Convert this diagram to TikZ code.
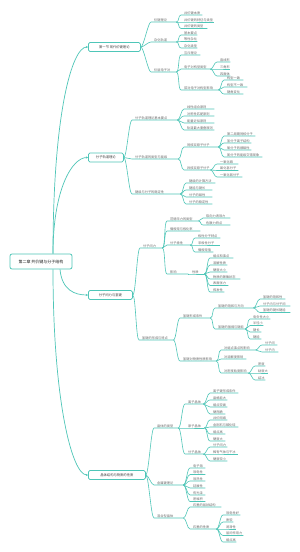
\documentclass[tikz,border=0pt]{standalone}
\usepackage{fontspec}
\newfontfamily\cjk{Noto Sans CJK SC}
\usetikzlibrary{arrows.meta}
\definecolor{lc}{HTML}{4FC6B8}
\definecolor{leafc}{HTML}{6A6A6A}
\definecolor{boxc}{HTML}{404040}
\definecolor{rootc}{HTML}{202020}
\tikzset{
  lbl/.style={anchor=south west, inner xsep=0pt, inner ysep=0.4pt, text=leafc,
    font=\cjk\fontsize{3.2}{3.6}\selectfont, text width=#1, align=left},
  conn/.style={draw=lc, line width=0.6pt},
  bx/.style={draw=lc, fill=white, rounded corners=1.5pt, line width=0.75pt,
    minimum height=9pt, inner sep=0pt, anchor=west, text=boxc,
    font=\cjk\fontsize{3.3}{4}\selectfont},
  rootbx/.style={draw=lc, fill=white, rounded corners=2pt, line width=0.8pt,
    minimum width=62pt, minimum height=15pt, inner sep=0pt, text=rootc,
    font=\cjk\fontsize{4}{5}\selectfont},
  mainconn/.style={draw=lc, line width=0.7pt, -{Stealth[length=2pt,width=2pt]}}
}
\newcommand{\mmn}[6]{%
  \node[lbl=#5pt] (#2) at (#3,#4) {#6};
  \draw[conn] (#1) .. controls +(3,0) and +(-3,0) .. ([xshift=-3pt]#2.south west) -- (#2.south east);
}
\begin{document}
\begin{tikzpicture}[x=1pt,y=-1pt]
\fill[white] (0,0) rectangle (300,552);
\useasboundingbox (0,0) rectangle (300,552);

% root and main branches
\node[rootbx] (root) at (41,261.5) {第二章 共价键与分子结构};
\node[bx, minimum width=52pt] (b1) at (88,47) {第一节 现代价键理论};
\node[bx, minimum width=35pt] (b2) at (88,157.5) {分子轨道理论};
\node[bx, minimum width=44pt] (b3) at (88,295) {分子间力与氢键};
\node[bx, minimum width=57pt] (b4) at (88,475) {晶体结构与物质的性质};

\draw[mainconn] ([xshift=12pt]root.north) .. controls +(0,-140) and +(-16,0) .. (b1.west);
\draw[mainconn] ([xshift=12pt]root.north) .. controls +(0,-64) and +(-16,0) .. (b2.west);
\draw[mainconn] ([xshift=19pt]root.south) .. controls +(2,21) and +(-13,0) .. (b3.west);
\draw[mainconn] ([xshift=12pt]root.south) .. controls +(0,131) and +(-16,0) .. (b4.west);

% ---------- branch 1
\mmn{b1.east}{a1}{154}{22}{22}{价键理论}
\mmn{b1.east}{a2}{154}{42}{22}{杂化轨道}
\mmn{b1.east}{a3}{154}{72}{22}{价层电子对}

\mmn{a1.south east}{a11}{184}{15}{18}{共价键本质}
\mmn{a1.south east}{a12}{184}{22}{30}{共价键的特征与类型}
\mmn{a1.south east}{a13}{184}{28.5}{23}{共价键的类型}

\mmn{a2.south east}{a21}{184}{35}{13}{基本要点}
\mmn{a2.south east}{a22}{184}{41.5}{13}{等性杂化}
\mmn{a2.south east}{a23}{184}{48}{13}{杂化类型}

\mmn{a3.south east}{a31}{184}{55}{16}{互斥理论}
\mmn{a3.south east}{a32}{184}{69}{26}{电子对构型类型}
\mmn{a3.south east}{a33}{184}{90}{34}{孤对电子对构型影响}

\mmn{a32.south east}{a321}{220}{62}{10}{直线形}
\mmn{a32.south east}{a322}{220}{69}{10}{三角形}
\mmn{a32.south east}{a323}{220}{76}{10}{四面体}

\mmn{a33.south east}{a331}{227}{80}{16}{构型一致}
\mmn{a33.south east}{a332}{227}{87}{20}{构型不一致}
\mmn{a33.south east}{a333}{227}{94}{16}{键角变化}

% ---------- branch 2
\mmn{b2.east}{bb1}{135}{120}{42}{分子轨道理论基本要点}
\mmn{b2.east}{bb2}{135}{159}{43}{分子轨道的类型与能级}
\mmn{b2.east}{bb3}{135}{194}{45}{键级与分子的稳定性}

\mmn{bb1.south east}{b11}{187}{109}{27}{线性组合原则}
\mmn{bb1.south east}{b12}{187}{116}{27}{对称性匹配原则}
\mmn{bb1.south east}{b13}{187}{123}{27}{能量近似原则}
\mmn{bb1.south east}{b14}{187}{130}{27}{轨道最大重叠原则}

\mmn{bb2.south east}{c1}{187}{147}{31}{同核双原子分子}
\mmn{bb2.south east}{c2}{187}{170}{23}{异核双原子分子}

\mmn{c1.south east}{c11}{227}{136}{28}{第二周期同核分子}
\mmn{c1.south east}{c12}{227}{143}{24}{氢分子离子结构}
\mmn{c1.south east}{c13}{227}{150}{24}{氧分子的顺磁性}
\mmn{c1.south east}{c14}{227}{157}{35}{氮分子的能级交错现象}

\mmn{c2.south east}{c21}{220}{164}{18}{一氧化碳}
\mmn{c2.south east}{c22}{220}{170.5}{18}{氟化氢分子}
\mmn{c2.south east}{c23}{220}{177}{22}{一氧化氮分子}

\mmn{bb3.south east}{d1}{189}{183}{26}{键级的计算方法}
\mmn{bb3.south east}{d2}{189}{190}{23}{键能与键长}
\mmn{bb3.south east}{d3}{189}{197}{23}{分子的磁性}
\mmn{bb3.south east}{d4}{189}{204}{23}{分子的稳定性}

% ---------- branch 3
\mmn{b3.east}{dd1}{143}{248}{19}{分子间力}
\mmn{b3.east}{dd2}{142}{340}{31}{氢键的形成与特点}

\mmn{dd1.south east}{e1}{170}{221}{28}{范德华力的类型}
\mmn{dd1.south east}{e2}{170}{231}{30}{偶极矩与极化率}
\mmn{dd1.south east}{e3}{170}{245}{20}{分子极性}
\mmn{dd1.south east}{e4}{170}{274}{18}{影响}

\mmn{e1.south east}{e11}{206}{218}{24}{取向力诱导力}
\mmn{e1.south east}{e12}{206}{225}{24}{色散力特点}

\mmn{e3.south east}{e31}{198}{238}{22}{极性分子特点}
\mmn{e3.south east}{e32}{198}{245}{22}{非极性分子}
\mmn{e3.south east}{e33}{198}{252}{15}{偶极矩值}

\mmn{e4.south east}{f}{192}{274}{12}{性质}

\mmn{f.south east}{f1}{213}{258}{20}{熔点和沸点}
\mmn{f.south east}{f2}{213}{265}{14}{溶解性质}
\mmn{f.south east}{f3}{213}{272}{14}{硬度大小}
\mmn{f.south east}{f4}{213}{279}{27}{物质的聚集状态}
\mmn{f.south east}{f5}{213}{285.5}{15}{表面张力}
\mmn{f.south east}{f6}{213}{292}{11}{挥发性}

\mmn{dd2.south east}{g1}{183}{318}{27}{氢键形成条件}
\mmn{dd2.south east}{g2}{183}{361}{33}{氢键对物质性质影响}

\mmn{g1.south east}{h1}{218}{308}{35}{氢键的饱和与方向}
\mmn{g1.south east}{h2}{218}{329}{27}{氢键的强弱与键能}

\mmn{h1.south east}{h11}{263}{299}{22}{氢键的饱和性}
\mmn{h1.south east}{h12}{263}{306}{27}{分子内与分子间}
\mmn{h1.south east}{h13}{263}{312.5}{27}{氢键的键长键能}

\mmn{h2.south east}{h21}{253}{319}{17}{电负性大小}
\mmn{h2.south east}{h22}{253}{325.5}{10}{半径小}
\mmn{h2.south east}{h23}{253}{332}{8}{键长}
\mmn{h2.south east}{h24}{253}{339}{8}{键能}

\mmn{g2.south east}{i1}{224}{350}{31}{对熔点沸点的影响}
\mmn{g2.south east}{i2}{224}{359}{22}{对溶解度影响}
\mmn{g2.south east}{i3}{224}{373}{24}{对密度粘度影响}

\mmn{i1.south east}{i11}{265}{345}{12}{分子间}
\mmn{i1.south east}{i12}{265}{352}{13}{分子内}

\mmn{i3.south east}{i31}{258}{366}{7}{密度}
\mmn{i3.south east}{i32}{258}{373}{10}{粘度大}
\mmn{i3.south east}{i33}{258}{380}{7}{结冰}

% ---------- branch 4
\mmn{b4.east}{j1}{157}{428}{21}{晶体的类型}
\mmn{b4.east}{j2}{157}{485}{26}{金属键理论}
\mmn{b4.east}{j3}{157}{518}{26}{混合型晶体}

\mmn{j1.south east}{k1}{188}{404}{15}{离子晶体}
\mmn{j1.south east}{k2}{188}{428}{16}{原子晶体}
\mmn{j1.south east}{k3}{188}{454}{15}{分子晶体}

\mmn{k1.south east}{k11}{213}{393}{25}{离子键形成条件}
\mmn{k1.south east}{k12}{213}{400}{14}{晶格能大}
\mmn{k1.south east}{k13}{213}{407}{14}{熔点较高}
\mmn{k1.south east}{k14}{213}{414}{12}{硬而脆}

\mmn{k2.south east}{k21}{213}{420}{14}{共价网络}
\mmn{k2.south east}{k22}{213}{427}{25}{金刚石与碳化硅}
\mmn{k2.south east}{k23}{213}{434}{12}{熔点高}
\mmn{k2.south east}{k24}{213}{441}{12}{硬度大}

\mmn{k3.south east}{k31}{213}{447}{14}{分子间力}
\mmn{k3.south east}{k32}{213}{454}{25}{稀有气体与干冰}
\mmn{k3.south east}{k33}{213}{461}{14}{硬度较小}

\mmn{j2.south east}{m1}{193}{468}{12}{电子海}
\mmn{j2.south east}{m2}{193}{474.5}{12}{导电性}
\mmn{j2.south east}{m3}{193}{481}{12}{导热性}
\mmn{j2.south east}{m4}{193}{488}{12}{延展性}
\mmn{j2.south east}{m5}{193}{495}{12}{有光泽}
\mmn{j2.south east}{m6}{193}{501.5}{12}{密堆积}

\mmn{j3.south east}{l1}{193}{507}{28}{石墨的层状结构}
\mmn{j3.south east}{l2}{193}{529}{23}{石墨的性质}

\mmn{l2.south east}{l21}{226}{515}{14}{导电性好}
\mmn{l2.south east}{l22}{226}{522}{7}{质软}
\mmn{l2.south east}{l23}{226}{529}{10}{润滑性}
\mmn{l2.south east}{l24}{226}{535.5}{17}{层间作用力}
\mmn{l2.south east}{l25}{226}{542}{10}{熔点高}
\end{tikzpicture}
\end{document}
